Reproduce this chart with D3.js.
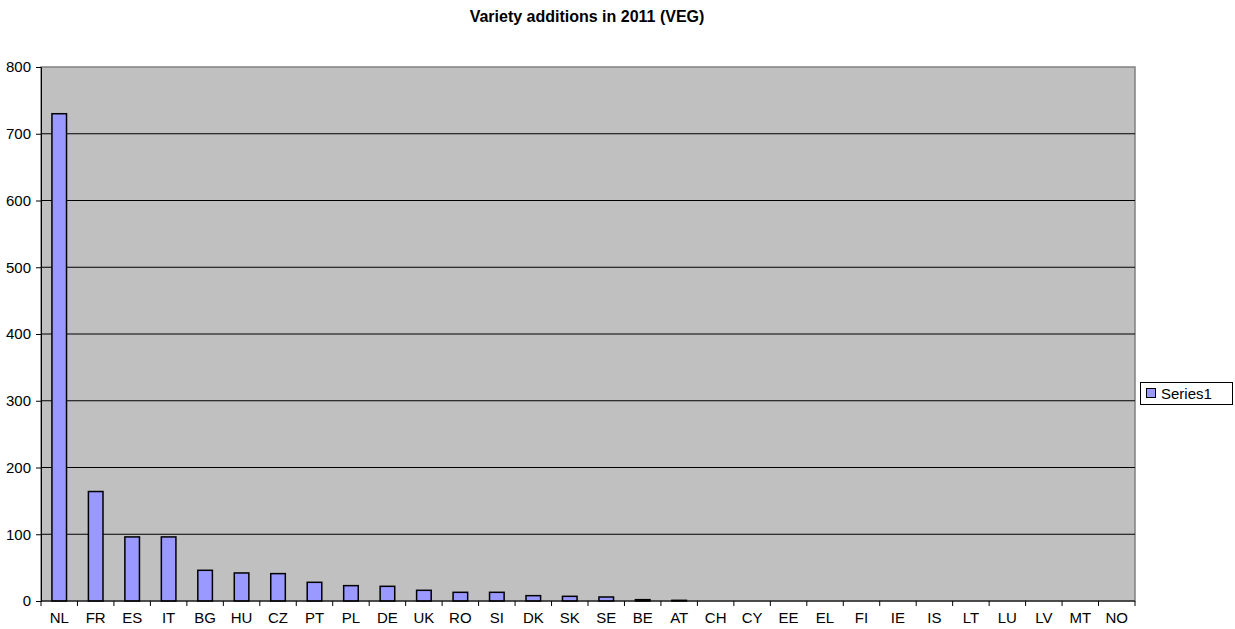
<!DOCTYPE html>
<html><head><meta charset="utf-8">
<script src="https://cdn.jsdelivr.net/npm/d3@7"></script>
<style>body{margin:0;background:#fff}svg{display:block;font-family:"Liberation Sans",Arial,sans-serif}</style>
</head><body><svg id="c" width="1235" height="629"></svg>
<script>
const categories = ["NL","FR","ES","IT","BG","HU","CZ","PT","PL","DE","UK","RO","SI","DK","SK","SE","BE","AT","CH","CY","EE","EL","FI","IE","IS","LT","LU","LV","MT","NO"];
const values = [730,164,96,96,46,42,41,28,23,22,16,13,13,8,7,6,2,1,0,0,0,0,0,0,0,0,0,0,0,0];
const yTicks = [0,100,200,300,400,500,600,700,800];
const title = "Variety additions in 2011 (VEG)";
const seriesName = "Series1";

const svg = d3.select("#c");
const L = 41, R = 1135, T = 67, B = 601;
const x = d3.scaleBand().domain(categories).range([L, R]).paddingInner(0.6).paddingOuter(0.3);
const xb = d3.scaleBand().domain(categories).range([L, R]);
const y = d3.scaleLinear().domain([0, 800]).range([B, T]);

svg.append("rect").attr("x", L).attr("y", T).attr("width", R - L).attr("height", B - T)
  .attr("fill", "#C0C0C0").attr("stroke", "#808080").attr("stroke-width", 1.5);

// gridlines
svg.append("g").selectAll("line").data(yTicks.filter(d => d > 0 && d < 800)).join("line")
  .attr("x1", L).attr("x2", R).attr("y1", d => y(d)).attr("y2", d => y(d))
  .attr("stroke", "#000").attr("stroke-width", 1);

// bars
svg.append("g").selectAll("rect").data(values.map((v, i) => ({c: categories[i], v})).filter(d => d.v > 0)).join("rect")
  .attr("x", d => x(d.c)).attr("width", x.bandwidth())
  .attr("y", d => y(d.v)).attr("height", d => y(0) - y(d.v))
  .attr("fill", "#9999FF").attr("stroke", "#000").attr("stroke-width", 1.5);

// y axis
const yAxis = d3.axisLeft(y).tickValues(yTicks).tickSize(5).tickPadding(5);
const gy = svg.append("g").attr("transform", `translate(${L},0)`).call(yAxis);
gy.select(".domain").attr("stroke", "#000");
gy.selectAll("text").attr("font-size", 15).attr("fill", "#000").attr("font-family", "Liberation Sans, Arial, sans-serif");

// x axis
const gx = svg.append("g").attr("transform", `translate(0,${B})`);
gx.append("line").attr("x1", L).attr("x2", R).attr("stroke", "#000").attr("stroke-width", 1);
gx.selectAll("line.t").data(categories.concat(["_end"])).join("line").attr("class", "t")
  .attr("x1", (d, i) => L + i * xb.step()).attr("x2", (d, i) => L + i * xb.step())
  .attr("y1", 0).attr("y2", 5).attr("stroke", "#000");
gx.selectAll("text").data(categories).join("text")
  .attr("x", d => xb(d) + xb.bandwidth() / 2).attr("y", 22)
  .attr("text-anchor", "middle").attr("font-size", 15).text(d => d);

// title
svg.append("text").attr("x", 587).attr("y", 22).attr("text-anchor", "middle")
  .attr("font-size", 16).attr("font-weight", "bold").text(title);

// legend
const lg = svg.append("g");
lg.append("rect").attr("x", 1140.5).attr("y", 382.5).attr("width", 92).attr("height", 22)
  .attr("fill", "#fff").attr("stroke", "#000");
lg.append("rect").attr("x", 1146.5).attr("y", 388.5).attr("width", 9).attr("height", 9)
  .attr("fill", "#9999FF").attr("stroke", "#000");
lg.append("text").attr("x", 1161).attr("y", 399).attr("font-size", 15).text(seriesName);
</script></body></html>
